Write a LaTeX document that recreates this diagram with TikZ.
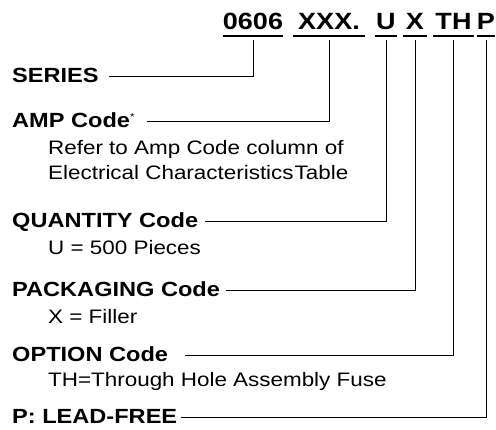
\documentclass[tikz,border=0pt]{standalone}
\usepackage{fontspec}
\setmainfont{Liberation Sans}[FakeStretch=1.15]
\begin{document}
\begin{tikzpicture}[x=1pt, y=-1pt,
    headtext/.style={anchor=base west, inner sep=0pt, text height=12pt, text depth=0pt,
        font=\fontsize{20.5}{24}\selectfont\bfseries},
    subtext/.style={anchor=base west, inner sep=0pt, align=left,
        font=\fontsize{19.5}{25}\selectfont},
    codepart/.style={anchor=base, inner sep=0pt, text height=17pt, text depth=7pt,
        font=\fontsize{23.5}{28}\selectfont\bfseries},
    leader/.style={line width=1pt}]

    % Fix picture size
    \useasboundingbox (0,0) rectangle (496,429);

    % Draw part number pieces with underlines
    \foreach \name/\txt/\cx/\w in {p0606/0606/253/60, pxxx/XXX./329/72, pu/U/386/22,
                                   px/X/415/24, pth/TH/453.5/41, pp/P/486/18} {
        \node[codepart, minimum width=\w pt] (\name) at (\cx,29) {\txt};
        \draw[line width=2.3pt] (\name.south west) -- (\name.south east);
    }

    % Draw field labels (multi-line notes sit on their last baseline)
    \node[headtext] (series) at (12,82) {SERIES};
    \node[headtext] (amp) at (12,127) {AMP Code{\fontsize{10}{10}\selectfont\mdseries\raisebox{7pt}{*}}};
    \node[subtext] (ampnote) at (48,179) {Refer to Amp Code column of\\Electrical Characteristics\kern1pt Table};
    \node[headtext] (qty) at (12,227) {QUANTITY Code};
    \node[subtext] (qtynote) at (48,254) {U = 500 Pieces};
    \node[headtext] (pkg) at (12,296) {PACKAGING Code};
    \node[subtext] (pkgnote) at (48,323) {X = Filler};
    \node[headtext] (opt) at (12,361) {OPTION Code};
    \node[subtext] (optnote) at (48,386) {TH=Through Hole Assembly Fuse};
    \node[headtext] (lead) at (12,423) {P: LEAD-FREE};

    % Connect labels to pieces
    \foreach \lbl/\part/\gap in {series/p0606/10, amp/pxxx/12, qty/pu/7,
                                 pkg/px/6, opt/pth/17, lead/pp/4}
        \draw[leader] (\lbl.east) ++(\gap,0) -| ([yshift=-4pt]\part.south);

\end{tikzpicture}
\end{document}
